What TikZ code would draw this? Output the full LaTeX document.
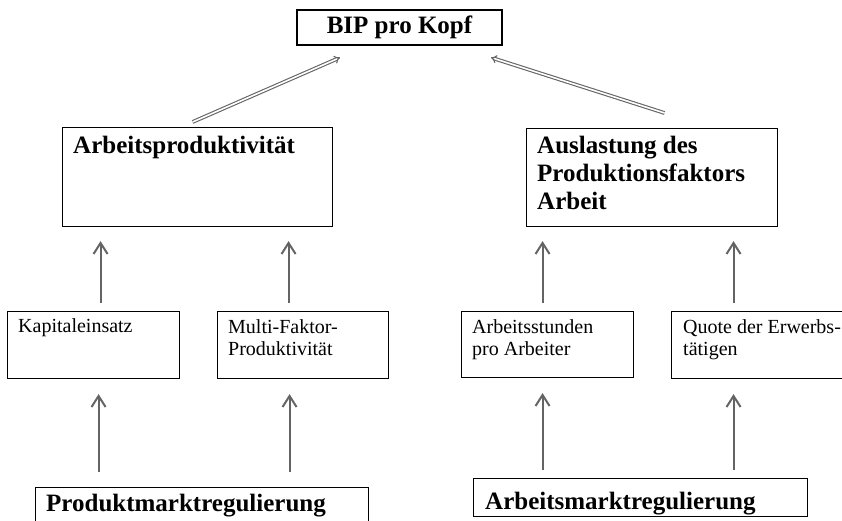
\documentclass[tikz,border=0pt]{standalone}
\usepackage{fontspec}
\setmainfont{Liberation Serif}
\usepackage{tikz}
\usetikzlibrary{arrows.meta,calc}
\definecolor{pfeilgrau}{RGB}{100,100,100}

\begin{document}
\begin{tikzpicture}[x=1pt, y=-1pt,
    box/.style={draw, line width=1.1pt, inner sep=0pt},
    gross/.style={inner sep=0pt, anchor=north west, align=left, font=\fontsize{25}{28}\selectfont\bfseries},
    klein/.style={inner sep=0pt, anchor=north west, align=left, font=\fontsize{20}{22}\selectfont},
    pfeil/.style={draw=pfeilgrau, line width=2pt, -{Straight Barb[length=11pt, width=14pt, line width=2pt]}},
    doppelpfeil/.style={draw=pfeilgrau, line width=1.1pt, double=white, double distance=1.6pt, -{Implies[scale=1.6]}}]
    \useasboundingbox (0,0) rectangle (842,520);
    \clip (0,0) rectangle (842,520);

    % Oberste Ebene
    \node[box, minimum width=205, minimum height=35, font=\fontsize{25}{28}\selectfont\bfseries] (bip) at (399.5,27.5) {BIP pro Kopf};

    % Zweite Ebene
    \node[box, anchor=north west, minimum width=270, minimum height=99] (ap) at (62,127) {};
    \node[gross] (ap-text) at ($(ap.north west)+(11,9)$) {Arbeitsproduktivität};
    \node[box, anchor=north west, minimum width=251, minimum height=98] (al) at (526,128) {};
    \node[gross] (al-text) at ($(al.north west)+(11,8)$) {Auslastung des\\Produktionsfaktors\\Arbeit};

    % Dritte Ebene
    \node[box, anchor=north west, minimum width=172, minimum height=67] (ke) at (7,311) {};
    \node[klein] (ke-text) at ($(ke.north west)+(11,7)$) {Kapitaleinsatz};
    \node[box, anchor=north west, minimum width=171, minimum height=67] (mfp) at (217,311) {};
    \node[klein] (mfp-text) at ($(mfp.north west)+(11,8)$) {Multi-Faktor-\\Produktivität};
    \node[box, anchor=north west, minimum width=172, minimum height=66] (as) at (461,311) {};
    \node[klein] (as-text) at ($(as.north west)+(11,8)$) {Arbeitsstunden\\pro Arbeiter};
    \node[box, anchor=north west, minimum width=185, minimum height=67] (qe) at (671,311) {};
    \node[klein] (qe-text) at ($(qe.north west)+(12,8)$) {Quote der Erwerbs-\\tätigen};

    % Unterste Ebene
    \node[box, anchor=north west, minimum width=333, minimum height=45] (pmr) at (35,487) {};
    \node[gross] (pmr-text) at ($(pmr.north west)+(11,7)$) {Produktmarktregulierung};
    \node[box, anchor=north west, minimum width=334, minimum height=38] (amr) at (473,478) {};
    \node[gross] (amr-text) at ($(amr.north west)+(12,14)$) {Arbeitsmarktregulierung};

    % Doppelpfeile nach oben
    \draw[doppelpfeil] ($(ap.north)+(-5,-5)$) -- ($(bip.south)+(-59.5,12)$);
    \draw[doppelpfeil] ($(al.north)+(12.5,-15)$) -- ($(bip.south)+(91.5,12)$);

    % Pfeile zur zweiten Ebene
    \draw[pfeil] ($(ke.north)+(7,-8)$) -- ($(ke.north |- ap.south)+(7,14)$);
    \draw[pfeil] ($(mfp.north)+(-14.5,-8)$) -- ($(mfp.north |- ap.south)+(-14.5,14)$);
    \draw[pfeil] ($(as.north)+(-5,-8)$) -- ($(as.north |- al.south)+(-5,14)$);
    \draw[pfeil] ($(qe.north)+(-30.5,-8)$) -- ($(qe.north |- al.south)+(-30.5,14)$);

    % Pfeile von der Regulierung
    \draw[pfeil] ($(ke.south |- pmr.north)+(5,-15)$) -- ($(ke.south)+(5,15)$);
    \draw[pfeil] ($(mfp.south |- pmr.north)+(-13.5,-15)$) -- ($(mfp.south)+(-13.5,15)$);
    \draw[pfeil] ($(as.south |- amr.north)+(-5,-8)$) -- ($(as.south)+(-5,15)$);
    \draw[pfeil] ($(qe.south |- amr.north)+(-30.5,-8)$) -- ($(qe.south)+(-30.5,15)$);
\end{tikzpicture}
\end{document}
